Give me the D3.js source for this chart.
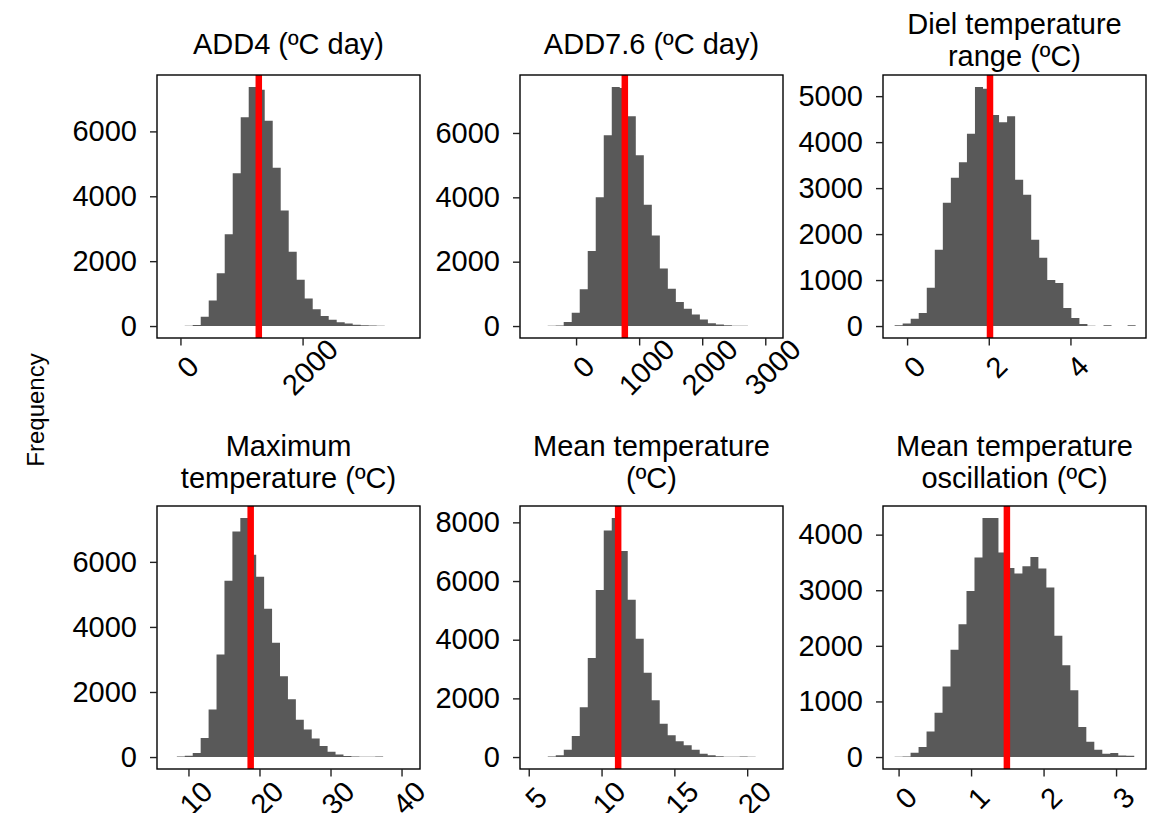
<!DOCTYPE html>
<html>
<head>
<meta charset="utf-8">
<script src="https://cdn.jsdelivr.net/npm/d3@7"></script>
<style>
  body { margin: 0; background: #fff; }
  svg { display: block; font-family: "Liberation Sans", Arial, sans-serif; }
</style>
</head>
<body>
<svg id="chart" width="1152" height="813"></svg>
<script>
// panel titles (one entry per line)
var titles = [
  ["ADD4 (ºC day)"],
  ["ADD7.6 (ºC day)"],
  ["Diel temperature", "range (ºC)"],
  ["Maximum", "temperature (ºC)"],
  ["Mean temperature", "(ºC)"],
  ["Mean temperature", "oscillation (ºC)"]
];

// histogram counts
var add4Counts = [10, 35, 290, 790, 1630, 2830, 4710, 6440, 7370, 7280, 6330, 4880, 3560, 2290,
  1430, 850, 520, 310, 195, 115, 75, 40, 25, 15, 10, 5, 3];
var add76Counts = [8, 20, 124, 414, 1140, 2330, 4005, 5930, 7430, 7400, 6520, 5310, 3770, 2815,
  1790, 1160, 745, 540, 360, 200, 85, 45, 25, 12, 10, 5, 4, 3];
var dielCounts = [15, 58, 160, 283, 833, 1660, 2680, 3225, 3560, 4180, 5200, 5160, 4590, 4435,
  4565, 3180, 2855, 1877, 1485, 1000, 935, 390, 174, 43, 7, 3, 15, 2, 0, 15];
var maxCounts = [2, 20, 40, 123, 583, 1460, 3150, 5420, 6930, 7350, 6220, 5540, 4560, 3515,
  2480, 1775, 1145, 850, 570, 337, 165, 80, 30, 20, 12, 10, 15, 5, 3, 2];
var meanCounts = [2, 3, 15, 57, 250, 715, 1700, 3380, 5690, 7720, 8150, 7025, 5360, 4030,
  2870, 1940, 1135, 740, 535, 400, 250, 115, 57, 25, 12, 10, 15, 10, 3, 2];
var oscCounts = [5, 12, 78, 180, 460, 795, 1270, 1930, 2390, 2985, 3590, 4300, 4300, 3680,
  3400, 3300, 3430, 3600, 3390, 3050, 2180, 1650, 1200, 540, 275, 130, 60, 72, 30, 25];
var allCounts = [add4Counts, add76Counts, dielCounts, maxCounts, meanCounts, oscCounts];

// left edge of first bin and bin width per panel
var binStarts = [70, -450, -0.305, 7.25, 5.21, -0.055];
var binWidths = [131, 127, 0.1967, 1.117, 0.549, 0.1102];

// red reference line per panel
var refValues = [1283, 773, 2.03, 18.76, 11.14, 1.494];

var xDomains = [[-384, 3923], [-889, 3281], [-0.59, 5.85], [5.57, 42.6], [4.40, 22.46], [-0.215, 3.413]];
var xTicks = [[0, 2000], [0, 1000, 2000, 3000], [0, 2, 4], [10, 20, 30, 40], [5, 10, 15, 20], [0, 1, 2, 3]];
var yTicks = [
  [0, 2000, 4000, 6000],
  [0, 2000, 4000, 6000],
  [0, 1000, 2000, 3000, 4000, 5000],
  [0, 2000, 4000, 6000],
  [0, 2000, 4000, 6000, 8000],
  [0, 1000, 2000, 3000, 4000]
];

var colLeft = [157, 520, 883];
var rowTop = [75, 506];
var size = 263;

var svg = d3.select('#chart');

svg.append('text')
  .attr('transform', 'translate(44,410) rotate(-90)')
  .attr('text-anchor', 'middle')
  .style('font-size', '24px')
  .text('Frequency');

allCounts.forEach(function(counts, i) {
  var row = Math.floor(i / 3), col = i % 3;
  var left = colLeft[col], top = rowTop[row];
  var g = svg.append('g').attr('transform', 'translate(' + left + ',' + top + ')');

  var ymax = d3.max(counts);
  var x = d3.scaleLinear().domain(xDomains[i]).range([0, size]);
  var y = d3.scaleLinear().domain([-0.05 * ymax, 1.05 * ymax]).range([size, 0]);

  // step points: left edge of every bin, then the right edge of the last one
  var steps = counts.map(function(c, k) {
    return { x: binStarts[i] + k * binWidths[i], n: c };
  });
  steps.push({ x: binStarts[i] + counts.length * binWidths[i], n: counts[counts.length - 1] });

  var area = d3.area()
    .curve(d3.curveStepAfter)
    .x(function(d) { return x(d.x); })
    .y0(y(0))
    .y1(function(d) { return y(d.n); });

  g.append('path')
    .datum(steps)
    .attr('d', area)
    .attr('fill', '#595959');

  g.append('line')
    .attr('x1', x(refValues[i])).attr('x2', x(refValues[i]))
    .attr('y1', 0).attr('y2', size)
    .attr('stroke', '#ff0000')
    .attr('stroke-width', 6.5);

  g.append('rect')
    .attr('width', size).attr('height', size)
    .attr('fill', 'none')
    .attr('stroke', '#000')
    .attr('stroke-width', 1.4);

  // y axis
  var yAxis = g.append('g').call(d3.axisLeft(y).tickValues(yTicks[i]).tickSize(7).tickPadding(13).tickFormat(d3.format('d')));
  yAxis.select('.domain').remove();
  yAxis.selectAll('line').attr('stroke', '#222').attr('stroke-width', 1.4);
  yAxis.selectAll('text')
    .attr('fill', '#000')
    .style('font-size', '29px')
    .style('font-family', '"Liberation Sans", Arial, sans-serif');

  // x axis with rotated labels
  var xAxis = g.append('g').attr('transform', 'translate(0,' + size + ')')
    .call(d3.axisBottom(x).tickValues(xTicks[i]).tickSize(7.5).tickFormat(d3.format('d')));
  xAxis.select('.domain').remove();
  xAxis.selectAll('line').attr('stroke', '#222').attr('stroke-width', 1.4);
  xAxis.selectAll('text')
    .attr('y', null).attr('dy', null)
    .attr('fill', '#000')
    .attr('text-anchor', 'middle')
    .attr('dominant-baseline', 'central')
    .attr('transform', 'translate(7,29) rotate(-45)')
    .style('font-size', '29px')
    .style('font-family', '"Liberation Sans", Arial, sans-serif');

  // title
  var lines = titles[i];
  var lastBase = lines.length === 1 ? -21 : (row === 0 ? -9.5 : -18.5);
  lines.forEach(function(t, k) {
    g.append('text')
      .attr('x', size / 2)
      .attr('y', lastBase - (lines.length - 1 - k) * 31.5)
      .attr('text-anchor', 'middle')
      .style('font-size', '29px')
      .text(t);
  });
});
</script>
</body>
</html>
